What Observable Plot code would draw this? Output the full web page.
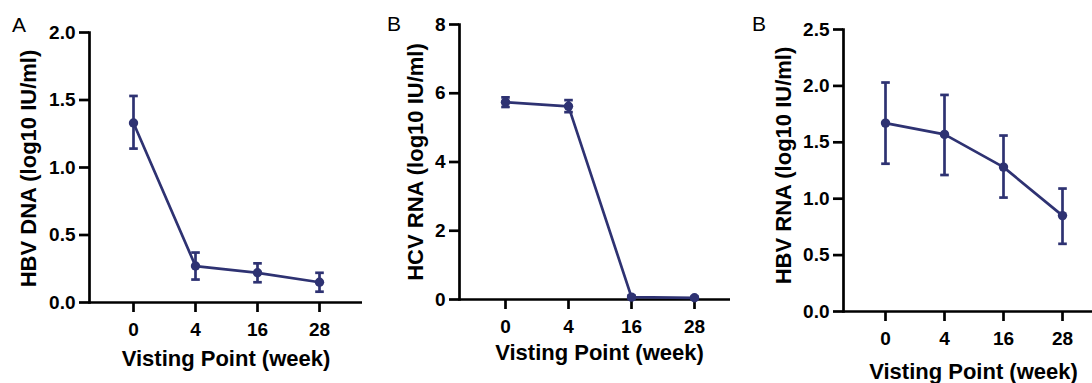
<!DOCTYPE html>
<html><head><meta charset="utf-8">
<script src="https://cdn.jsdelivr.net/npm/d3@7"></script>
<script src="https://cdn.jsdelivr.net/npm/@observablehq/plot@0.6"></script>
<style>
html,body{margin:0;padding:0;background:#fff;overflow:hidden;width:1092px;height:383px;}
#wrap{position:relative;width:1092px;height:383px;overflow:hidden;font-family:"Liberation Sans",Arial,sans-serif;}
.panel{position:absolute;top:0;}
.letter{position:absolute;font-size:21px;line-height:1;color:#000;font-family:"Liberation Sans",Arial,sans-serif;}
</style></head>
<body><div id="wrap"></div>
<script>
const weeks = ["0", "4", "16", "28"];
const xTitle = "Visting Point (week)";

const hbvDnaMean = [1.33, 0.27, 0.22, 0.15];
const hbvDnaLow  = [1.14, 0.17, 0.15, 0.08];
const hbvDnaHigh = [1.53, 0.37, 0.29, 0.22];

const hcvRnaMean = [5.74, 5.62, 0.07, 0.05];
const hcvRnaLow  = [5.60, 5.45, 0.03, 0.02];
const hcvRnaHigh = [5.88, 5.80, 0.11, 0.08];

const hbvRnaMean = [1.67, 1.57, 1.28, 0.85];
const hbvRnaLow  = [1.31, 1.21, 1.01, 0.60];
const hbvRnaHigh = [2.03, 1.92, 1.56, 1.09];

const panelLetters = ["A", "B", "B"];
const yTitles = ["HBV DNA (log10 IU/ml)", "HCV RNA (log10 IU/ml)", "HBV RNA (log10 IU/ml)"];
const yTicksA = [0, 0.5, 1.0, 1.5, 2.0];
const yTicksB = [0, 2, 4, 6, 8];
const yTicksC = [0, 0.5, 1.0, 1.5, 2.0, 2.5];

const color = "#2e3272";
const wrap = document.getElementById("wrap");

// horizontal cap symbol for error bars
const capSymbol = {
  draw(ctx, size) {
    const r = Math.sqrt(size / Math.PI);
    ctx.moveTo(-r, 0);
    ctx.lineTo(r, 0);
  }
};

function rows(mean, low, high) {
  return weeks.map((w, i) => ({week: w, mean: mean[i], low: low[i], high: high[i]}));
}

function panel(cfg) {
  const data = rows(cfg.mean, cfg.low, cfg.high);
  const svg = Plot.plot({
    width: cfg.width,
    height: 383,
    marginLeft: cfg.ml, marginRight: cfg.mr, marginTop: cfg.mt, marginBottom: cfg.mb,
    style: {fontFamily: "Liberation Sans, Arial, sans-serif", fontWeight: "bold", color: "#000", background: "#fff", overflow: "visible"},
    x: {type: "point", domain: weeks, padding: cfg.pad},
    y: {domain: cfg.yDomain},
    marks: [
      Plot.axisY({ticks: cfg.yTicks, tickFormat: cfg.yFormat, tickSize: 10, tickPadding: 4, label: null, fontSize: 19, strokeWidth: 2.7}),
      Plot.axisX({tickSize: 10, tickPadding: 10, label: null, fontSize: 19, strokeWidth: 2.7}),
      Plot.frame({anchor: "left", stroke: "#000", strokeWidth: 2.7}),
      Plot.ruleY([cfg.yDomain[0]], {stroke: "#000", strokeWidth: 2.7}),
      Plot.ruleX(data, {x: "week", y1: "low", y2: "high", stroke: color, strokeWidth: 2.7}),
      Plot.dot(data, {x: "week", y: "low", symbol: capSymbol, r: 4.3, stroke: color, fill: "none", strokeWidth: 2.7}),
      Plot.dot(data, {x: "week", y: "high", symbol: capSymbol, r: 4.3, stroke: color, fill: "none", strokeWidth: 2.7}),
      Plot.line(data, {x: "week", y: "mean", stroke: color, strokeWidth: 2.7}),
      Plot.dot(data, {x: "week", y: "mean", r: 4.7, fill: color, stroke: "none"}),
      Plot.text([cfg.yTitle], {frameAnchor: "left", dx: cfg.ytdx, dy: cfg.ytdy, rotate: -90, textAnchor: "middle", lineAnchor: "middle", text: d => d, fontSize: 22, fill: "#000"}),
      Plot.text([xTitle], {frameAnchor: "bottom", dy: cfg.xtdy, textAnchor: "middle", lineAnchor: "middle", text: d => d, fontSize: 22, fill: "#000"})
    ]
  });
  svg.classList.add("panel");
  svg.style.left = cfg.left + "px";
  svg.style.position = "absolute";
  svg.style.top = "0px";
  wrap.appendChild(svg);
  const L = document.createElement("div");
  L.className = "letter";
  L.textContent = cfg.letter;
  L.style.left = cfg.lx + "px";
  L.style.top = cfg.ly + "px";
  wrap.appendChild(L);
}

panel({left: 0, width: 370, ml: 89, mr: 8, mt: 32, mb: 81, pad: 0.69,
  yDomain: [0, 2], yTicks: yTicksA, yFormat: d3.format(".1f"),
  mean: hbvDnaMean, low: hbvDnaLow, high: hbvDnaHigh,
  yTitle: yTitles[0], ytdx: -61, ytdy: 1, xtdy: 56, letter: panelLetters[0], lx: 12, ly: 14});

panel({left: 370, width: 370, ml: 89, mr: 1, mt: 24, mb: 84, pad: 0.69,
  yDomain: [0, 8], yTicks: yTicksB, yFormat: d3.format("d"),
  mean: hcvRnaMean, low: hcvRnaLow, high: hcvRnaHigh,
  yTitle: yTitles[1], ytdx: -44, ytdy: 0, xtdy: 53, letter: panelLetters[1], lx: 387, ly: 13});

panel({left: 730, width: 373, ml: 113, mr: 0, mt: 29, mb: 72, pad: 0.667,
  yDomain: [0, 2.5], yTicks: yTicksC, yFormat: d3.format(".1f"),
  mean: hbvRnaMean, low: hbvRnaLow, high: hbvRnaHigh,
  yTitle: yTitles[2], ytdx: -60, ytdy: -5, xtdy: 60, letter: panelLetters[2], lx: 752, ly: 13});
</script>
</body></html>
